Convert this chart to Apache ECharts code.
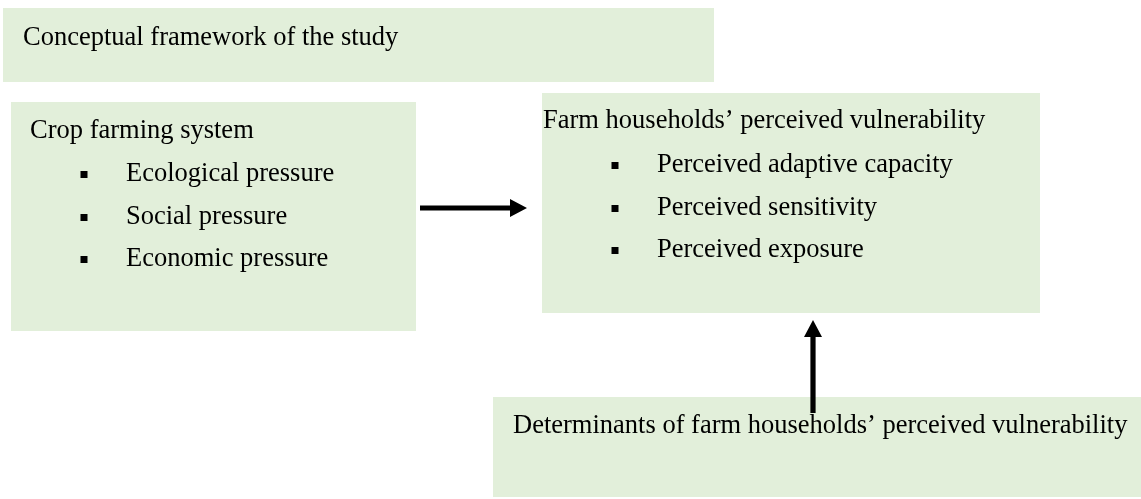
<!DOCTYPE html>
<html>
<head>
<meta charset="utf-8">
<script src="https://cdn.jsdelivr.net/npm/echarts@6/dist/echarts.min.js"></script>
<style>
html,body{margin:0;padding:0;background:#fff;}
#framework{width:1141px;height:499px;}
</style>
</head>
<body>
<div id="framework"></div>
<script>
// boxes of the framework, [left, top, right, bottom] in diagram units
var boxes = [
    [3, 8, 714, 82],
    [11, 102, 416, 331],
    [542, 93, 1040, 313],
    [493, 397, 1141, 497]
];
var headings = [
    'Conceptual framework of the study',
    'Crop farming system',
    'Farm households\u2019 perceived vulnerability',
    'Determinants of farm households\u2019 perceived vulnerability'
];
var headingAt = [[23, 47], [30, 140], [543, 130], [513, 435]];
var pressures = ['Ecological pressure', 'Social pressure', 'Economic pressure'];
var pressureRows = [183, 226, 268];
var dimensions = ['Perceived adaptive capacity', 'Perceived sensitivity', 'Perceived exposure'];
var dimensionRows = [174, 217, 259];
// arrows [fromX, fromY, toX, toY]
var arrows = [
    [420, 208, 527, 208],
    [813, 413, 813, 320]
];

var FONT = '26.5px "Liberation Serif", "Times New Roman", serif';

// text lines: [x, baseline, text]
var texts = [];
headings.forEach(function (t, i) {
    texts.push([headingAt[i][0], headingAt[i][1], t]);
});
pressures.forEach(function (t, i) {
    texts.push([126, pressureRows[i], t]);
});
dimensions.forEach(function (t, i) {
    texts.push([657, dimensionRows[i], t]);
});
// bullets: [x, baseline]
var bullets = [];
pressureRows.forEach(function (y) { bullets.push([84, y]); });
dimensionRows.forEach(function (y) { bullets.push([615, y]); });

var chart = echarts.init(document.getElementById('framework'));
var option = {
    backgroundColor: '#fff',
    animation: false,
    grid: {left: 0, right: 0, top: 0, bottom: 0},
    xAxis: {type: 'value', min: 0, max: 1141, show: false},
    yAxis: {type: 'value', min: 0, max: 499, inverse: true, show: false},
    series: [
        {
            name: 'boxes',
            type: 'custom',
            data: boxes,
            encode: {x: [0, 2], y: [1, 3]},
            renderItem: function (params, api) {
                var p0 = api.coord([api.value(0), api.value(1)]);
                var p1 = api.coord([api.value(2), api.value(3)]);
                return {
                    type: 'rect',
                    shape: {x: p0[0], y: p0[1], width: p1[0] - p0[0], height: p1[1] - p0[1]},
                    style: {fill: '#e2efda'}
                };
            }
        },
        {
            name: 'arrows',
            type: 'custom',
            data: arrows,
            encode: {x: [0, 2], y: [1, 3]},
            z: 3,
            renderItem: function (params, api) {
                var a = api.coord([api.value(0), api.value(1)]);
                var b = api.coord([api.value(2), api.value(3)]);
                var dx = b[0] - a[0], dy = b[1] - a[1];
                var len = Math.sqrt(dx * dx + dy * dy);
                var ux = dx / len, uy = dy / len;
                var nx = -uy, ny = ux;
                var sw = 2.6, hw = 9, hl = 17;
                var c = [b[0] - ux * hl, b[1] - uy * hl];
                return {
                    type: 'polygon',
                    shape: {points: [
                        [a[0] + nx * sw, a[1] + ny * sw],
                        [c[0] + nx * sw, c[1] + ny * sw],
                        [c[0] + nx * hw, c[1] + ny * hw],
                        [b[0], b[1]],
                        [c[0] - nx * hw, c[1] - ny * hw],
                        [c[0] - nx * sw, c[1] - ny * sw],
                        [a[0] - nx * sw, a[1] - ny * sw]
                    ]},
                    style: {fill: '#000'}
                };
            }
        },
        {
            name: 'bullets',
            type: 'custom',
            data: bullets,
            encode: {x: 0, y: 1},
            renderItem: function (params, api) {
                var p = api.coord([api.value(0), api.value(1)]);
                return {
                    type: 'rect',
                    shape: {x: p[0] - 3.5, y: p[1] - 12, width: 7, height: 7},
                    style: {fill: '#000'}
                };
            }
        },
        {
            name: 'texts',
            type: 'custom',
            data: texts.map(function (t) { return [t[0], t[1]]; }),
            encode: {x: 0, y: 1},
            z: 2,
            renderItem: function (params, api) {
                var p = api.coord([api.value(0), api.value(1)]);
                return {
                    type: 'text',
                    x: p[0],
                    y: p[1] - 9,
                    style: {
                        text: texts[params.dataIndex][2],
                        font: FONT,
                        fill: '#000',
                        align: 'left',
                        verticalAlign: 'middle'
                    }
                };
            }
        }
    ]
};
chart.setOption(option);
</script>
</body>
</html>
